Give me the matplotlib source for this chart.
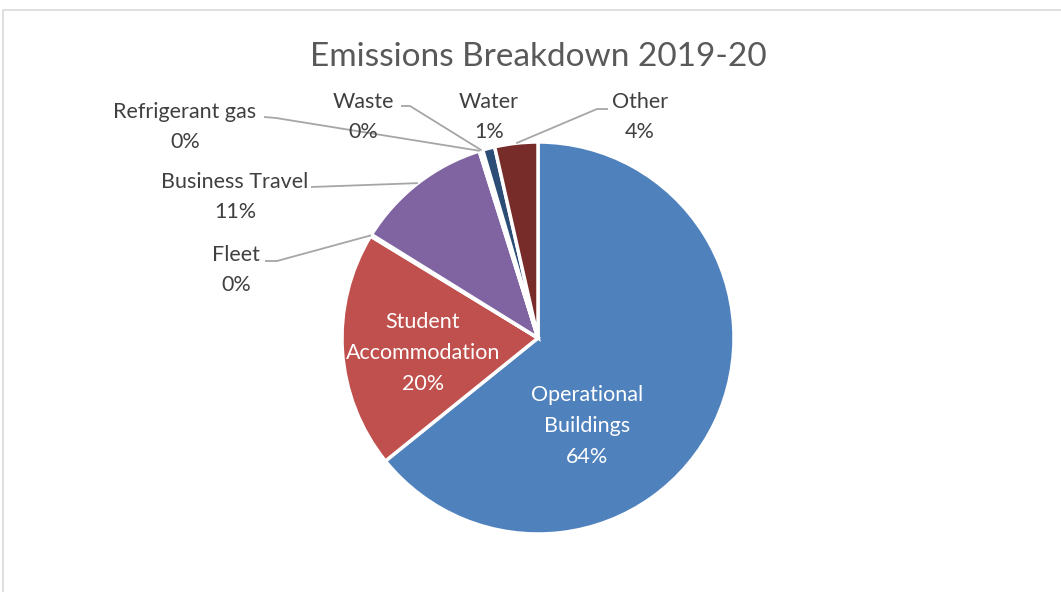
import numpy as np
import matplotlib.pyplot as plt
from matplotlib.patches import Rectangle

categories = ["Operational Buildings", "Student Accommodation", "Fleet", "Business Travel",
              "Refrigerant gas", "Waste", "Water", "Other"]
values = [64.2, 19.5, 0.15, 11.3, 0.1, 0.2, 1.0, 3.55]
pct_labels = ["64%", "20%", "0%", "11%", "0%", "0%", "1%", "4%"]
colors = ["#4F81BD", "#C0504D", "#9BBB59", "#8064A2", "#4BACC6", "#F79646", "#2C4D75", "#772C2A"]

W, H = 1061, 592
fig = plt.figure(figsize=(W / 100, H / 100), dpi=100)
ax = fig.add_axes([0, 0, 1, 1])
plt.rcParams['font.family'] = ['Lato', 'DejaVu Sans']

cx, cy, R = 538, H - 338, 196
wedges, _ = ax.pie(values, colors=colors, startangle=90, counterclock=False,
                   center=(cx, cy), radius=R, frame=True,
                   wedgeprops=dict(edgecolor="white", linewidth=2.5))
ax.set_xlim(0, W)
ax.set_ylim(0, H)
ax.set_aspect("equal")
ax.axis("off")

# chart border
ax.add_patch(Rectangle((2.5, -20), W + 20, H - 9.5 + 20, fill=False,
                       edgecolor="#D9D9D9", linewidth=1.2))

ax.text(cx, H - 57, "Emissions Breakdown 2019-20", ha="center", va="center",
        fontsize=24, color="#595959")

txt = "#404040"
fs = 15.5
ls = 1.66

def mid_point(i):
    w = wedges[i]
    a = np.deg2rad((w.theta1 + w.theta2) / 2)
    return cx + R * np.cos(a), cy + R * np.sin(a)

# inside labels
ax.text(423, H - 353, "Student\nAccommodation\n" + pct_labels[1], ha="center", va="center",
        fontsize=fs, color="white", linespacing=ls)
ax.text(587, H - 426, "Operational\nBuildings\n" + pct_labels[0], ha="center", va="center",
        fontsize=fs, color="white", linespacing=ls)

# outside labels: (index, text centre, leader start, elbow)
outside = [
    (4, (185, 127), (264, 117), (276, 118)),
    (5, (363, 117), (401, 106), (410, 106)),
    (6, (489, 117), None, None),
    (7, (640, 117), (608, 109), (597, 109)),
    (3, (235, 197), (311, 187), (311, 187)),
    (2, (236, 270), (265, 261), (277, 261)),
]
for i, (tx, ty), start, elbow in outside:
    ax.text(tx, H - ty, categories[i] + "\n" + pct_labels[i], ha="center", va="center",
            fontsize=fs, color=txt, linespacing=ls)
    if start is None:
        continue
    px, py = mid_point(i)
    ax.plot([start[0], elbow[0], px], [H - start[1], H - elbow[1], py],
            color="#A6A6A6", linewidth=1.3, solid_capstyle="butt")

fig.savefig("out.png", dpi=100)
